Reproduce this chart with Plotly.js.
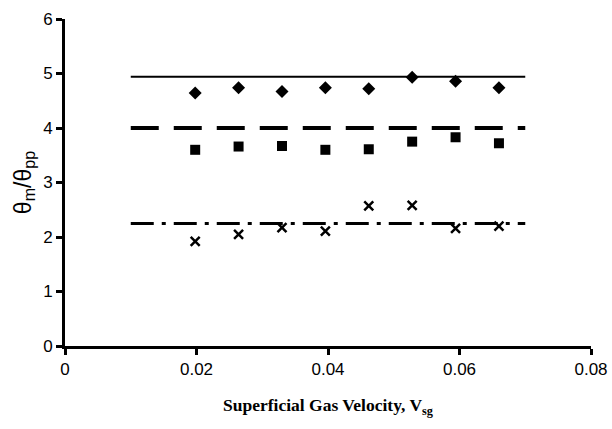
<!DOCTYPE html>
<html>
<head>
<meta charset="utf-8">
<script src="https://cdn.plot.ly/plotly-3.0.1.min.js"></script>
<style>html,body{margin:0;padding:0;background:#fff;}#chart{width:612px;height:429px;}</style>
</head>
<body>
<div id="chart"></div>
<script>
// Superficial gas velocity (x) for measured points
var velocity = [0.0198, 0.0264, 0.0330, 0.0396, 0.0462, 0.0528, 0.0594, 0.0660];
// Measured theta_m / theta_pp series
var seriesDiamond = [4.64, 4.74, 4.67, 4.74, 4.72, 4.93, 4.86, 4.74];
var seriesSquare  = [3.60, 3.66, 3.67, 3.60, 3.61, 3.75, 3.83, 3.72];
var seriesCross   = [1.92, 2.05, 2.17, 2.11, 2.57, 2.58, 2.16, 2.20];
// Reference (predicted) horizontal lines
var lineX = [0.01, 0.07];
var lineSolid = [4.94, 4.94];
var lineDash = [4.0, 4.0];
var lineDashDot = [2.25, 2.25];
// Tick labels
var xTickVals = [0, 0.02, 0.04, 0.06, 0.08];
var xTickText = ["0", "0.02", "0.04", "0.06", "0.08"];
var yTickVals = [0, 1, 2, 3, 4, 5, 6];
var yTickText = ["0", "1", "2", "3", "4", "5", "6"];

var traces = [
  {x: lineX, y: lineSolid, mode: 'lines', line: {color: '#000', width: 2}, hoverinfo: 'skip'},
  {x: lineX, y: lineDash, mode: 'lines', line: {color: '#000', width: 4, dash: '28px,15px'}, hoverinfo: 'skip'},
  {x: lineX, y: lineDashDot, mode: 'lines', line: {color: '#000', width: 3, dash: '23px,8px,4px,8px'}, hoverinfo: 'skip'},
  {x: velocity, y: seriesDiamond, mode: 'markers', marker: {symbol: 'diamond', size: 10, color: '#000'}},
  {x: velocity, y: seriesSquare, mode: 'markers', marker: {symbol: 'square', size: 10, color: '#000'}},
  {x: velocity, y: seriesCross, mode: 'markers', marker: {symbol: 'x-thin-open', size: 9, color: '#000', line: {color: '#000', width: 2.5}}}
];

var layout = {
  width: 612, height: 429,
  margin: {l: 65, r: 21, t: 19, b: 83},
  paper_bgcolor: '#fff', plot_bgcolor: '#fff',
  showlegend: false,
  font: {family: '"Liberation Sans", Arial, sans-serif', color: '#000', size: 17},
  xaxis: {
    range: [0, 0.08], tickvals: xTickVals, ticktext: xTickText,
    showgrid: false, zeroline: false, showline: true, linecolor: '#000', linewidth: 3,
    ticks: 'outside', ticklen: 6, tickwidth: 3, tickcolor: '#000',
    tickfont: {size: 17},
    title: {text: 'Superficial Gas Velocity, V<sub>sg</sub>', standoff: 21,
            font: {family: '"Liberation Serif", "Times New Roman", serif', size: 17.5, weight: 'bold'}}
  },
  yaxis: {
    range: [0, 6], tickvals: yTickVals, ticktext: yTickText,
    showgrid: false, zeroline: false, showline: true, linecolor: '#000', linewidth: 3,
    ticks: 'outside', ticklen: 6, tickwidth: 3, tickcolor: '#000',
    tickfont: {size: 17},
    title: {text: 'θ<sub>m</sub>/θ<sub>pp</sub>', standoff: 6, font: {size: 23}}
  }
};

Plotly.newPlot('chart', traces, layout, {staticPlot: true, displayModeBar: false});
</script>
</body>
</html>
